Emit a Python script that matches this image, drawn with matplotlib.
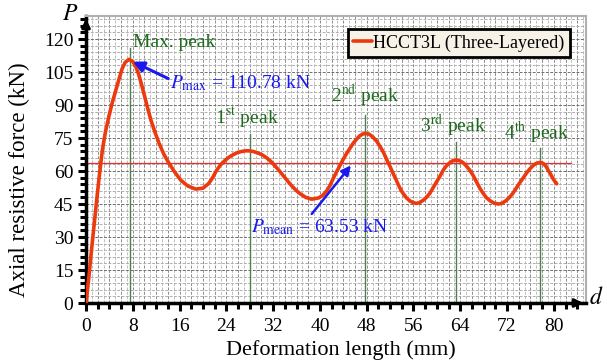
import matplotlib
matplotlib.use("Agg")
import matplotlib.pyplot as plt
import numpy as np
from matplotlib.ticker import MultipleLocator

plt.rcParams['font.family'] = ['Liberation Serif', 'DejaVu Serif']
plt.rcParams['mathtext.fontset'] = 'stix'

# Curve data: deformation (mm), force (kN)
disp = [0.0, 0.5, 0.9, 1.4, 1.83, 2.3, 2.8, 3.3, 3.9, 4.5, 5.1, 5.7, 6.2, 6.7, 7.35,
        8.0, 8.5, 9.0, 9.5, 9.9, 10.5, 11.1, 11.8, 12.5, 13.3, 14.2, 15.2, 16.2, 17.4,
        18.75, 20.0, 21.0, 21.7, 22.3, 23.0, 23.8, 24.5, 25.2, 25.9, 26.6, 27.3, 27.9,
        28.6, 29.4, 30.1, 30.9, 31.6, 32.3, 33.0, 33.7, 34.5, 35.2, 35.9, 36.6, 37.6,
        38.6, 39.8, 40.5, 41.1, 41.7, 42.2, 42.8, 43.4, 44.0, 44.6, 45.2, 45.7, 46.3,
        46.8, 47.3, 47.8, 48.4, 49.0, 49.7, 50.3, 50.9, 51.4, 52.0, 52.5, 53.0, 53.4,
        53.8, 54.2, 54.8, 55.4, 56.0, 56.5, 57.0, 57.6, 58.2, 58.8, 59.4, 60.0, 60.6,
        61.1, 61.7, 62.3, 62.8, 63.4, 63.9, 64.5, 65.0, 65.6, 66.2, 66.8, 67.3, 67.9,
        68.5, 69.2, 69.8, 70.5, 71.1, 71.8, 72.4, 73.0, 73.6, 74.2, 74.8, 75.3, 75.9,
        76.5, 77.0, 77.6, 78.0, 78.3, 78.7, 79.0, 79.4, 79.8, 80.2, 80.5]
force = [0.0, 12.0, 23.0, 36.0, 46.8, 58.5, 69.5, 77.5, 84.7, 91.2, 96.8, 102.3, 106.7,
         109.4, 110.78, 109.8, 107.6, 104.0, 99.3, 95.3, 89.0, 83.2, 77.6, 72.6, 67.7,
         63.5, 59.4, 55.9, 53.2, 51.8, 52.2, 54.4, 57.2, 60.2, 62.8, 64.9, 66.4, 67.5,
         68.4, 68.9, 69.2, 69.2, 68.9, 68.2, 67.4, 66.0, 64.4, 62.4, 60.3, 58.0, 55.4,
         53.2, 51.3, 49.7, 48.0, 47.2, 47.8, 49.0, 50.8, 53.3, 56.2, 59.4, 62.4, 65.4,
         68.2, 70.6, 72.7, 74.6, 76.0, 76.8, 77.1, 76.8, 75.6, 73.6, 71.1, 68.3, 65.3,
         62.0, 59.0, 56.2, 53.8, 51.6, 49.9, 47.8, 46.4, 45.6, 45.3, 45.6, 46.6, 48.0,
         49.9, 52.6, 55.3, 58.0, 60.5, 62.6, 64.0, 64.8, 65.0, 64.7, 63.8, 62.4, 60.5,
         58.0, 55.0, 52.4, 49.9, 47.8, 46.3, 45.4, 45.0, 45.3, 46.5, 48.0, 49.9, 52.3,
         54.8, 57.0, 59.0, 61.0, 62.6, 63.5, 63.9, 63.7, 63.2, 62.0, 60.5, 58.8, 56.8,
         55.2, 54.2]

p_max = 110.78
p_mean = 63.53

peak_x = [7.5, 28.0, 47.7, 63.3, 77.6]
peak_line_top = [116, 77, 85.5, 73, 70.5]
peak_names = ["Max. peak", "1$^{\\mathrm{st}}$ peak", "2$^{\\mathrm{nd}}$ peak",
              "3$^{\\mathrm{rd}}$ peak", "4$^{\\mathrm{th}}$ peak"]
peak_label_xy = [(8.0, 118.5), (27.6, 84.5), (47.7, 94), (62.8, 80.5), (77.0, 77.5)]

fig = plt.figure(figsize=(6.07, 3.63), dpi=100)
ax = fig.add_axes([86/607, 1-303/363, 500/607, 287/363])
ax.set_xlim(0, 85.5)
ax.set_ylim(0, 130.5)

# grid
for xv in np.arange(1, 86, 1):
    dark = (xv % 2 == 0)
    ax.axvline(xv, color='#8c8c8c' if dark else '#bdbdbd', lw=0.7, ls=(0, (3, 1.5)), zorder=0)
for yv in np.arange(3, 130, 3):
    dark = (yv % 15 == 0)
    ax.axhline(yv, color='#6e6e6e' if dark else '#b0b0b0', lw=0.7, ls=(0, (3, 1.5)), zorder=0)

# green peak lines
for px, top in zip(peak_x, peak_line_top):
    ax.plot([px, px], [0, top], color='#4f7f4f', lw=1.0, zorder=2)

# mean line
ax.plot([0, 83], [p_mean, p_mean], color='#e03030', lw=0.9, zorder=2)

# curve
ax.plot(disp, force, color='#ec3a0e', lw=2.6, solid_joinstyle='round',
        solid_capstyle='round', zorder=4, label='HCCT3L (Three-Layered)')

# peak labels
for name, (lx, ly) in zip(peak_names, peak_label_xy):
    ha = 'left' if name.startswith('Max') else 'center'
    ax.text(lx, ly, name, color='#1e6b1e', fontsize=14, ha=ha, va='center', zorder=5)

# annotations
ax.annotate('', xy=(7.6, p_max - 0.5), xytext=(14.5, 101.5),
            arrowprops=dict(arrowstyle='-|>', color='#1a1aee', lw=2.2,
                            mutation_scale=16), zorder=6)
ax.text(14.4, 100, '$P_{\\mathrm{max}}$ = 110.78 kN', color='#1a1aee', fontsize=14,
        ha='left', va='center', zorder=6)
ax.annotate('', xy=(45.6, p_mean), xytext=(38.3, 39.5),
            arrowprops=dict(arrowstyle='-|>', color='#1a1aee', lw=1.8,
                            mutation_scale=14), zorder=6)
ax.text(28.3, 34.5, '$P_{\\mathrm{mean}}$ = 63.53 kN', color='#1a1aee', fontsize=14,
        ha='left', va='center', zorder=6)

# ticks
ax.xaxis.set_minor_locator(MultipleLocator(2))
ax.yaxis.set_minor_locator(MultipleLocator(3))
ax.set_xticks(np.arange(0, 81, 8))
ax.set_yticks(np.arange(0, 121, 15))
ax.tick_params(which='major', direction='out', length=6, width=2.2, labelsize=14,
               color='black')
ax.tick_params(which='minor', direction='out', length=4, width=2.2, color='black')
ax.tick_params(axis='x', pad=5)
ax.tick_params(axis='y', pad=3)
ax.set_xlabel('Deformation length (mm)', fontsize=16)
ax.xaxis.set_label_coords(0.51, -0.128)
ax.set_ylabel('Axial resistive force (kN)', fontsize=16.5)
ax.yaxis.set_label_coords(-0.112, 0.43)

for s in ['left', 'bottom']:
    ax.spines[s].set_linewidth(2.5)
    ax.spines[s].set_color('black')
for s in ['top', 'right']:
    ax.spines[s].set_linewidth(1.5)
    ax.spines[s].set_color('#b0b0b0')

# axis arrows
ax.annotate('', xy=(1.0, 0), xycoords='axes fraction', xytext=(0.97, 0),
            arrowprops=dict(arrowstyle='-|>', color='black', lw=2.2, mutation_scale=12),
            annotation_clip=False)
ax.annotate('', xy=(0, 1.0), xycoords='axes fraction', xytext=(0, 0.95),
            arrowprops=dict(arrowstyle='-|>', color='black', lw=2.2, mutation_scale=12),
            annotation_clip=False)
fig.text(70/607, 1-14/363, '$P$', fontsize=17, ha='center', va='center')
fig.text(596/607, 1-298/363, '$d$', fontsize=17, ha='center', va='center')

leg = ax.legend(loc='upper right', bbox_to_anchor=(0.968, 0.955), fontsize=13,
                frameon=True, fancybox=False, handlelength=1.0, handletextpad=0.1,
                borderpad=0.3, borderaxespad=0)
leg.get_frame().set_edgecolor('black')
leg.get_frame().set_linewidth(2.0)
leg.get_frame().set_facecolor('#f6f2e7')
leg.get_frame().set_alpha(1)

fig.savefig('out.png', dpi=100)
